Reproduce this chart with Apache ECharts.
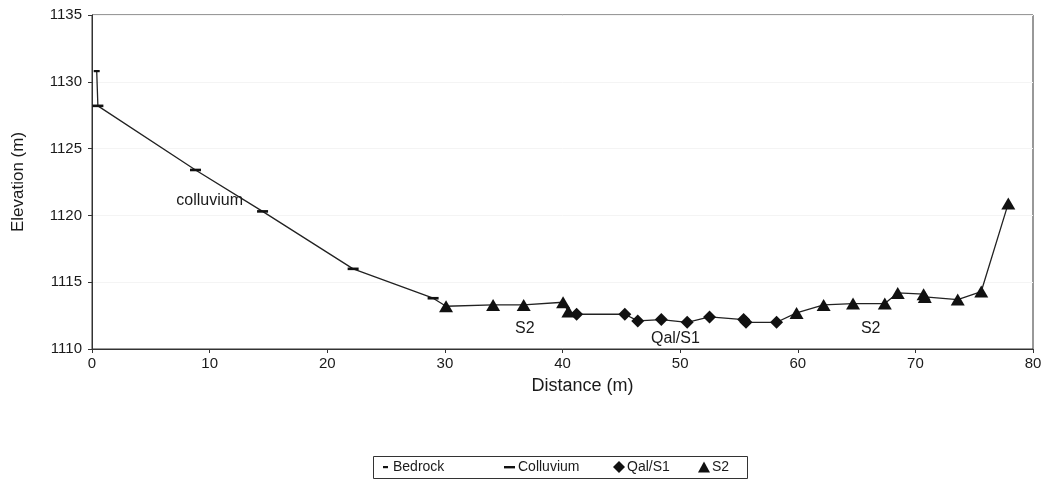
<!DOCTYPE html>
<html>
<head>
<meta charset="utf-8">
<script src="https://cdn.jsdelivr.net/npm/echarts@6/dist/echarts.min.js"></script>
<style>
  html, body { margin: 0; padding: 0; background: #fff; }
  #chart { width: 1052px; height: 485px; }
</style>
</head>
<body>
<div id="chart"></div>
<script>
// Surveyed cross-section: [distance (m), elevation (m)] per unit
const bedrock = [[0.4, 1130.8]];
const colluvium = [[0.5, 1128.2], [8.8, 1123.4], [14.5, 1120.3], [22.2, 1116.0], [29.0, 1113.8]];
const qalS1 = [[41.2, 1112.6], [45.3, 1112.6], [46.4, 1112.1], [48.4, 1112.2], [50.6, 1112.0],
               [52.5, 1112.4], [55.4, 1112.2], [55.6, 1112.0], [58.2, 1112.0]];
const s2 = [[30.1, 1113.2], [34.1, 1113.3], [36.7, 1113.3], [40.05, 1113.5], [40.5, 1112.8],
            [59.9, 1112.7], [62.2, 1113.3], [64.7, 1113.4], [67.4, 1113.4], [68.5, 1114.2],
            [70.7, 1114.1], [70.8, 1113.9], [73.6, 1113.7], [75.6, 1114.3], [77.9, 1120.9]];

// In-plot unit labels: [distance, elevation, text]
const unitLabels = [[10.0, 1121.1, 'colluvium'], [36.8, 1111.5, 'S2'], [49.6, 1110.8, 'Qal/S1'], [66.2, 1111.5, 'S2']];

const xTicks = { min: 0, max: 80, step: 10 };
const yTicks = { min: 1110, max: 1135, step: 5 };

// Ground surface traced through every surveyed point in order of distance
const profile = [].concat(bedrock, colluvium, qalS1, s2).sort((a, b) => a[0] - b[0]);

const FONT = '"Liberation Sans", Arial, sans-serif';
const INK = '#111';
const TEXT = '#1a1a1a';

const chart = echarts.init(document.getElementById('chart'), null, { renderer: 'canvas' });

const pad = 'M0,0M12,12';
const icons = {
  'Bedrock': 'path://' + pad + 'M4,5h5v2.2h-5z',
  'Colluvium': 'path://' + pad + 'M0,5h11v2.4h-11z',
  'Qal/S1': 'path://M6,0L12,6L6,12L0,6Z',
  'S2': 'path://M6,0L12,11L0,11Z'
};
const legendLeft = { 'Bedrock': 379, 'Colluvium': 504, 'Qal/S1': 613, 'S2': 698 };

const markStyle = { color: INK, opacity: 1 };

chart.setOption({
  animation: false,
  backgroundColor: '#fff',
  textStyle: { fontFamily: FONT },
  grid: { left: 92, right: 19, top: 15, bottom: 136, show: true, borderColor: '#333', borderWidth: 1 },
  xAxis: {
    type: 'value', min: xTicks.min, max: xTicks.max, interval: xTicks.step,
    name: 'Distance (m)', nameLocation: 'middle', nameGap: 28,
    nameTextStyle: { fontSize: 18, color: TEXT, fontFamily: FONT, padding: [0, 0, 0, 40] },
    axisLine: { show: true, lineStyle: { color: '#333', width: 1 } },
    axisTick: { show: true, inside: false, length: 4, lineStyle: { color: '#333' } },
    axisLabel: { fontSize: 15, color: TEXT, margin: 7, fontFamily: FONT },
    splitLine: { show: false }
  },
  yAxis: {
    type: 'value', min: yTicks.min, max: yTicks.max, interval: yTicks.step,
    name: 'Elevation (m)', nameLocation: 'middle', nameGap: 65, nameRotate: 90,
    nameTextStyle: { fontSize: 17, color: TEXT, fontFamily: FONT },
    axisLine: { show: true, lineStyle: { color: '#333', width: 1 } },
    axisTick: { show: true, inside: false, length: 4, lineStyle: { color: '#333' } },
    axisLabel: { fontSize: 15, color: TEXT, margin: 10, fontFamily: FONT, formatter: v => String(v) },
    splitLine: { show: true, lineStyle: { color: '#f4f4f4', width: 1 } }
  },
  legend: Object.keys(icons).map(name => ({
    data: [{ name: name, icon: icons[name] }],
    left: legendLeft[name], top: 460,
    itemWidth: 12, itemHeight: 12, itemGap: 0, padding: 0,
    textStyle: { fontSize: 14, color: TEXT, fontFamily: FONT, padding: [0, 0, 0, -3] },
    selectedMode: false
  })),
  graphic: [{
    type: 'rect', left: 371, top: 454, silent: true,
    shape: { width: 374, height: 22 },
    style: { fill: 'none', stroke: '#333', lineWidth: 1 }
  }],
  series: [
    {
      name: 'profile', type: 'line', data: profile, symbol: 'none', silent: true,
      lineStyle: { color: '#222', width: 1.3 }, z: 1
    },
    {
      name: 'Bedrock', type: 'scatter', data: bedrock, symbol: 'rect', symbolSize: [6, 2.2],
      itemStyle: markStyle, z: 3
    },
    {
      name: 'Colluvium', type: 'scatter', data: colluvium, symbol: 'rect', symbolSize: [11, 2.6],
      itemStyle: markStyle, z: 3
    },
    {
      name: 'Qal/S1', type: 'scatter', data: qalS1, symbol: 'diamond', symbolSize: [13, 13],
      itemStyle: markStyle, z: 3
    },
    {
      name: 'S2', type: 'scatter', data: s2, symbol: 'triangle', symbolSize: [14, 12],
      itemStyle: markStyle, z: 3
    },
    {
      name: 'labels', type: 'scatter', silent: true, symbolSize: 0,
      itemStyle: { opacity: 1 },
      data: unitLabels.map(d => ({ value: [d[0], d[1]], name: d[2] })),
      label: { show: true, position: 'inside', formatter: '{b}', fontSize: 16, color: TEXT, fontFamily: FONT },
      emphasis: { disabled: true },
      z: 4
    }
  ]
});
</script>
</body>
</html>
